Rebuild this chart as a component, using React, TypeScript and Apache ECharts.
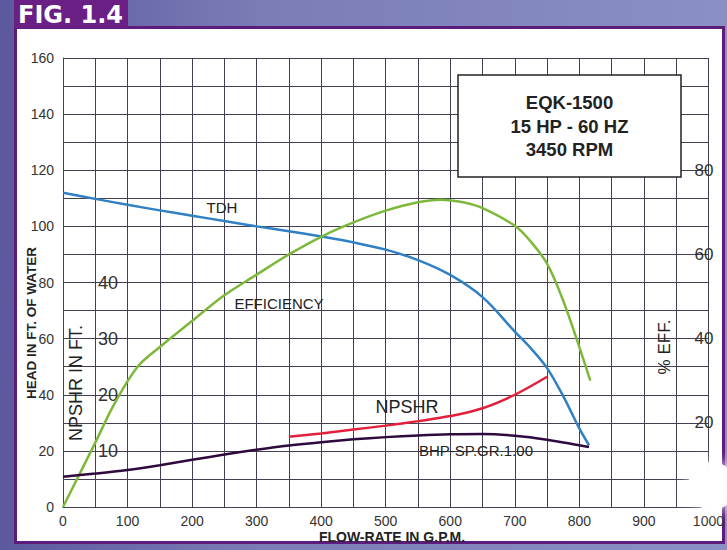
import React, { useEffect, useRef } from "react";
import * as echarts from "echarts";

// ---- data ----
const flowTicks = [0, 100, 200, 300, 400, 500, 600, 700, 800, 900, 1000];
const headTicks = [0, 20, 40, 60, 80, 100, 120, 140, 160];
const effTicks = [20, 40, 60, 80];
const npshrTicks = [10, 20, 30, 40];

const tdhFlow = [0, 50, 100, 150, 200, 250, 300, 350, 400, 450, 500, 550, 600, 650, 700, 725, 750, 775, 800, 815];
const tdhHead = [112, 109.8, 107.7, 105.7, 103.8, 101.9, 100, 98.3, 96.4, 94.3, 91.7, 88, 82.7, 74.8, 62.5, 56.5, 49.5, 39.5, 28, 22];

const effFlow = [0, 50, 80, 115, 150, 200, 250, 300, 350, 400, 450, 500, 550, 585, 620, 650, 700, 725, 750, 775, 800, 817];
const effPct = [0, 15.3, 24.6, 33.2, 38, 44.2, 50.3, 55.2, 60, 64.2, 67.6, 70.4, 72.4, 73, 72.4, 71, 66.8, 63, 57.8, 49, 38, 30];

const npshrFlow = [350, 400, 450, 500, 550, 600, 650, 700, 750];
const npshrFt = [12.5, 13.1, 13.8, 14.5, 15.3, 16.2, 17.6, 20.0, 23.2];

const bhpFlow = [0, 50, 100, 150, 200, 250, 300, 350, 400, 450, 500, 550, 600, 650, 700, 750, 800, 815];
const bhpVal = [10.8, 11.9, 13.2, 14.9, 16.8, 18.7, 20.4, 21.9, 23.1, 24.1, 24.9, 25.5, 25.9, 26.0, 25.4, 24.0, 22.0, 21.4];

const zip = (xs: number[], ys: number[]) => xs.map((x, i) => [x, ys[i]]);

const FONT = "'Liberation Sans', Arial, Helvetica, sans-serif";
const GRID = "#453f55";
const LABEL = "#333";

function txt(text: string, x: number, y: number, size: number, opts: any = {}) {
  return {
    type: "text",
    x,
    y,
    rotation: opts.rotation || 0,
    z: opts.z || 50,
    style: {
      text,
      x: 0,
      y: 0,
      fill: opts.fill || "#222",
      font: `${opts.bold ? "bold " : ""}${size}px ${opts.family || FONT}`,
      align: opts.align || "center",
      textAlign: opts.align || "center",
      verticalAlign: "middle",
      textVerticalAlign: "middle",
    },
  };
}

const lineSeries = (name: string, yAxisIndex: number, data: number[][], color: string) => ({
  name,
  type: "line",
  yAxisIndex,
  data,
  smooth: 0.35,
  showSymbol: false,
  lineStyle: { color, width: 2.5 },
});

export default function App() {
  const ref = useRef<HTMLDivElement>(null);
  useEffect(() => {
    if (!ref.current) return;
    const chart = echarts.init(ref.current, undefined, { renderer: "svg" });
    const option: any = {
      animation: false,
      backgroundColor: "transparent",
      grid: { left: 63, top: 58, right: 9, bottom: 43, containLabel: false },
      xAxis: {
        type: "value",
        min: 0,
        max: 1000,
        interval: 50,
        axisLine: { show: true, lineStyle: { color: GRID, width: 1 } },
        axisTick: { show: false },
        splitLine: { show: true, lineStyle: { color: GRID, width: 1 } },
        axisLabel: {
          margin: 7,
          color: LABEL,
          fontSize: 14,
          fontFamily: FONT,
          showMaxLabel: true,
          formatter: (v: number) => (flowTicks.includes(v) ? String(v) : ""),
        },
      },
      yAxis: [
        {
          type: "value",
          position: "left",
          min: 0,
          max: 160,
          interval: 10,
          axisLine: { show: true, lineStyle: { color: GRID, width: 1 } },
          axisTick: { show: false },
          splitLine: { show: true, lineStyle: { color: GRID, width: 1 } },
          axisLabel: {
            margin: 9,
            color: LABEL,
            fontSize: 14,
            fontFamily: FONT,
            formatter: (v: number) => (headTicks.includes(v) ? String(v) : ""),
          },
        },
        {
          type: "value",
          position: "right",
          min: 0,
          max: 320 / 3,
          interval: 20,
          axisLine: { show: false },
          axisTick: { show: false },
          splitLine: { show: false },
          axisLabel: {
            inside: true,
            margin: -5,
            color: LABEL,
            fontSize: 17,
            fontFamily: FONT,
            showMaxLabel: false,
            formatter: (v: number) => (effTicks.includes(v) ? String(v) : ""),
          },
        },
        {
          type: "value",
          position: "left",
          offset: -34,
          min: 0,
          max: 80,
          interval: 10,
          axisLine: { show: false },
          axisTick: { show: false },
          splitLine: { show: false },
          axisLabel: {
            inside: true,
            margin: 1,
            color: LABEL,
            fontSize: 18,
            fontFamily: FONT,
            formatter: (v: number) => (npshrTicks.includes(v) ? String(v) : ""),
          },
        },
      ],
      series: [
        lineSeries("TDH", 0, zip(tdhFlow, tdhHead), "#2f80c4"),
        lineSeries("EFFICIENCY", 1, zip(effFlow, effPct), "#7db83a"),
        lineSeries("NPSHR", 2, zip(npshrFlow, npshrFt), "#e3203c"),
        lineSeries("BHP", 0, zip(bhpFlow, bhpVal), "#2e0a3e"),
      ],
      graphic: [
        { type: "rect", z: 40, shape: { x: 14, y: 0, width: 114, height: 28 }, style: { fill: "#6a1f84" } },
        txt("FIG. 1.4", 18, 15, 24, { bold: true, fill: "#ffffff", align: "left", family: "'DejaVu Sans', sans-serif" }),
        {
          type: "rect",
          z: 100,
          shape: { x: 458, y: 75, width: 223, height: 102 },
          style: { fill: "#ffffff", stroke: "#222", lineWidth: 1.5 },
        },
        txt("EQK-1500", 569.5, 102, 18.5, { bold: true, z: 101 }),
        txt("15 HP - 60 HZ", 569.5, 126, 18.5, { bold: true, z: 101 }),
        txt("3450 RPM", 569.5, 149, 18.5, { bold: true, z: 101 }),
        txt("TDH", 222, 207, 15),
        txt("EFFICIENCY", 279, 303, 15),
        txt("NPSHR", 407, 407, 18),
        txt("BHP-SP.GR.1.00", 476, 450, 15),
        txt("HEAD IN FT. OF WATER", 31, 323, 13.5, { bold: true, rotation: Math.PI / 2 }),
        txt("NPSHR IN FT.", 76, 383, 18, { rotation: Math.PI / 2 }),
        txt("% EFF.", 664, 347, 17, { rotation: Math.PI / 2 }),
        txt("FLOW-RATE IN G.P.M.", 392, 537, 14, { bold: true }),
        {
          type: "circle",
          z: 90,
          shape: { cx: 712, cy: 486, r: 24 },
          style: { fill: "rgba(255,255,255,0.95)", shadowBlur: 14, shadowColor: "rgba(255,255,255,1)" },
        },
      ],
    };
    chart.setOption(option);
    return () => chart.dispose();
  }, []);

  return (
    <div
      style={{
        position: "absolute",
        left: 0,
        top: 0,
        width: 727,
        height: 550,
        overflow: "hidden",
        background: "linear-gradient(90deg, #5c589e 0%, #7a7cb6 35%, #8a90c4 100%)",
      }}
    >
      <div
        style={{
          position: "absolute",
          left: 14,
          top: 26,
          width: 711,
          height: 518,
          boxSizing: "border-box",
          border: "3px solid #5c1c7c",
          background: "#ffffff",
        }}
      />
      <div ref={ref} style={{ position: "absolute", left: 0, top: 0, width: 727, height: 550 }} />
    </div>
  );
}
